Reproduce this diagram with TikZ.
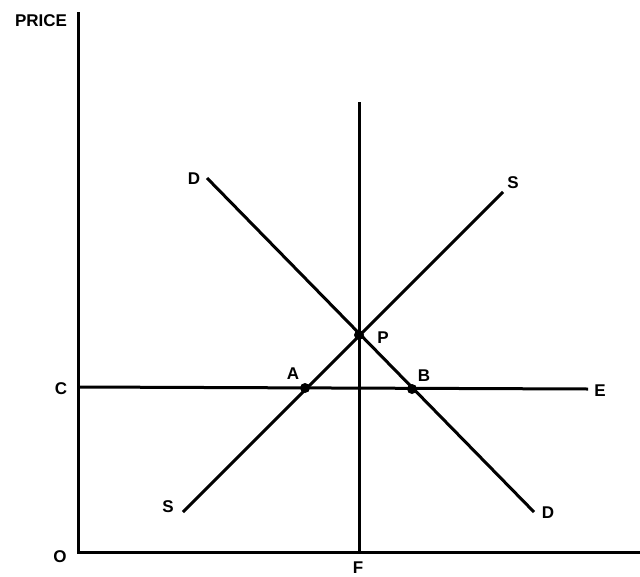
\documentclass[tikz,border=0pt]{standalone}
\usepackage{fontspec}
\setmainfont{Liberation Sans}
\begin{document}
\begin{tikzpicture}[x=1pt,y=-1pt,
  ln/.style={line width=3pt,black},
  lbl/.style={font=\bfseries\fontsize{17}{19}\selectfont,inner sep=0pt},
  dot/.style={circle,fill=black,inner sep=0pt,minimum size=10pt}]
\useasboundingbox (0,0) rectangle (640,576);
% coordinates
\coordinate (ytop) at (78,12);
\coordinate (O) at (78,552);
\coordinate (xend) at (640,552);
\coordinate (Ftop) at (359,102);
\coordinate (Fbot) at (359,552);
\coordinate (Cl) at (78,387);
\coordinate (Er) at (588,389);
\coordinate (Dtop) at (207,178);
\coordinate (Dbot) at (534,512);
\coordinate (Sbot) at (183,512);
\coordinate (Stop) at (503,192);
% axes
\draw[ln] (ytop) -- (O) -- (xend);
\draw[ln] (Ftop) -- (Fbot);
\draw[ln] (Cl) -- (Er);
\draw[ln] (Dtop) -- (Dbot);
\draw[ln] (Sbot) -- (Stop);
% points
\node[dot] (P) at (359,335) {};
\node[dot] (A) at (305,388) {};
\node[dot] (B) at (412,389) {};
% labels
\node[lbl] (price) at (41,21) {PRICE};
\node[lbl] (lO) at (60,557) {O};
\node[lbl] (lF) at (358,568) {F};
\node[lbl] (lC) at (61,389) {C};
\node[lbl] (lE) at (600,391) {E};
\node[lbl] (lD1) at (194,179) {D};
\node[lbl] (lD2) at (548,513) {D};
\node[lbl] (lS1) at (513,183) {S};
\node[lbl] (lS2) at (168,507) {S};
\node[lbl] (lP) at (383,338) {P};
\node[lbl] (lA) at (293,374) {A};
\node[lbl] (lB) at (424,376) {B};
\end{tikzpicture}
\end{document}
